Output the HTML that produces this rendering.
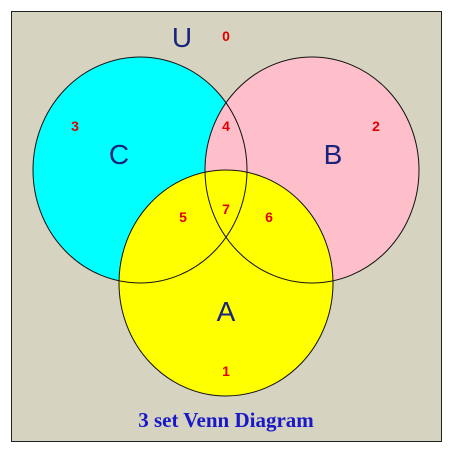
<!DOCTYPE html>
<html><head><meta charset="utf-8"><style>
html,body{margin:0;padding:0;background:#fff;width:453px;height:453px;overflow:hidden}
svg{display:block}
.n{font-family:"Liberation Sans",sans-serif;font-weight:bold;font-size:14px;fill:#e00000;text-anchor:middle}
.L{font-family:"Liberation Sans",sans-serif;font-size:28px;fill:#1a237e;text-anchor:middle}
</style></head><body>
<svg width="453" height="453">
<rect x="11.5" y="11.5" width="430" height="430" fill="#d6d3c0" stroke="#222" stroke-width="1"/>
<g id="sets"></g>
<text class="L" x="182" y="47">U</text>
<g id="labels"></g>
<text x="226" y="427" text-anchor="middle" font-family="Liberation Serif,serif" font-weight="bold" font-size="21" fill="#1818c8">3 set Venn Diagram</text>
</svg>
<script>
const setNames=["C","B","A"];
const setCx=[140,312,226];
const setCy=[170,170,283];
const setFill=["#00ffff","#ffbfca","#ffff00"];
const regionLabels=["0","1","2","3","4","5","6","7"];
const regionX=[226,226,376,75,226,183,269,226];
const regionY=[41,376,131,131,131,222,222,214];
const NS="http://www.w3.org/2000/svg";
const g=document.getElementById('sets');
for(let i=0;i<3;i++){const e=document.createElementNS(NS,'ellipse');
e.setAttribute('cx',setCx[i]);e.setAttribute('cy',setCy[i]);e.setAttribute('rx',107);e.setAttribute('ry',113);e.setAttribute('fill',setFill[i]);


g.appendChild(e);}
for(let i=0;i<3;i++){const e=document.createElementNS(NS,'ellipse');
e.setAttribute('cx',setCx[i]);e.setAttribute('cy',setCy[i]);e.setAttribute('rx',107);e.setAttribute('ry',113);e.setAttribute('fill','none');e.setAttribute('stroke','#111');e.setAttribute('stroke-width','1');


g.appendChild(e);
const t=document.createElementNS(NS,'text');t.setAttribute('class','L');
const lx=[119,333,226][i],ly=[164,164,321][i];
t.setAttribute('x',lx);t.setAttribute('y',ly);t.textContent=setNames[i];


document.getElementById('labels').appendChild(t);}
const lg=document.getElementById('labels');
for(let i=0;i<regionLabels.length;i++){const t=document.createElementNS(NS,'text');
t.setAttribute('class','n');t.setAttribute('x',regionX[i]);t.setAttribute('y',regionY[i]);t.textContent=regionLabels[i];


lg.appendChild(t);}
</script>
</body></html>
